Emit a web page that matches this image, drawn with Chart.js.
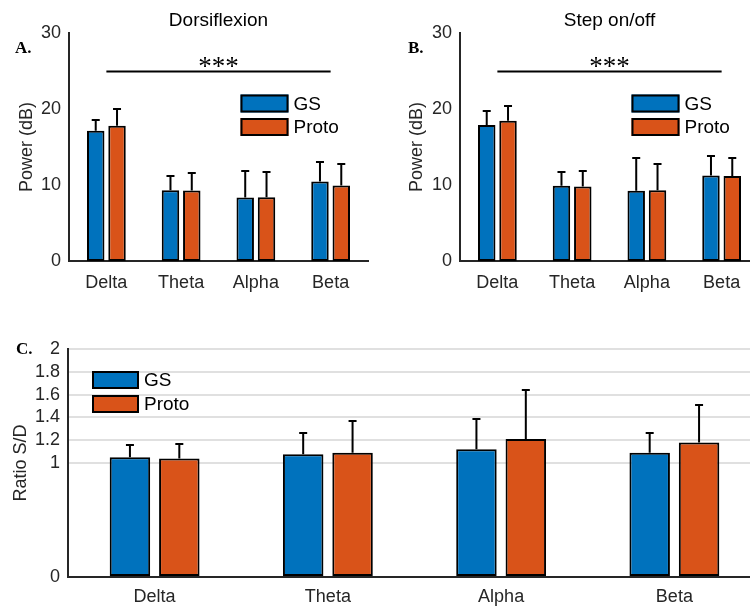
<!DOCTYPE html>
<html lang="en">
<head>
<meta charset="UTF-8">
<title>EEG band power: GS vs Proto</title>
<script src="https://cdn.jsdelivr.net/npm/chart.js@4"></script>
<style>
  html, body { margin: 0; padding: 0; background: #fff; overflow: hidden; }
  #fig { position: relative; width: 750px; height: 606px; overflow: hidden; }
  canvas { position: absolute; }
  #dorsi { left: 0; top: 0; }
  #step { left: 390px; top: 0; }
  #ratio { left: 0; top: 310px; }
</style>
</head>
<body>
<div id="fig">
  <canvas id="dorsi" width="375" height="300"></canvas>
  <canvas id="step" width="375" height="300"></canvas>
  <canvas id="ratio" width="765" height="296"></canvas>
</div>
<script>
const bands = ['Delta', 'Theta', 'Alpha', 'Beta'];
const groups = ['GS', 'Proto'];
const groupColors = ['#0072BD', '#D95319'];

// band power in dB, mean and SD (only +SD is drawn)
const dorsiGS = [17.15, 9.3, 8.35, 10.45];
const dorsiGSsd = [1.35, 1.9, 3.5, 2.55];
const dorsiProto = [17.8, 9.27, 8.4, 9.95];
const dorsiProtoSd = [2.25, 2.35, 3.3, 2.85];

const stepGS = [17.9, 9.9, 9.23, 11.25];
const stepGSsd = [1.9, 1.8, 4.37, 2.55];
const stepProto = [18.47, 9.8, 9.3, 11.2];
const stepProtoSd = [1.98, 2.07, 3.45, 2.4];

// step / dorsiflexion power ratio
const ratioGS = [1.05, 1.076, 1.12, 1.09];
const ratioGSsd = [0.11, 0.184, 0.266, 0.176];
const ratioProto = [1.04, 1.09, 1.21, 1.18];
const ratioProtoSd = [0.13, 0.28, 0.43, 0.33];

const powerTicks = [0, 10, 20, 30];
const ratioTicks = [0, 1, 1.2, 1.4, 1.6, 1.8, 2];

// band effect, spanning Delta..Beta
const sigLevel = 25;
const sigMark = '***';

const INK = '#262626';
const SANS = 'Liberation Sans, Arial, sans-serif';
const SERIF = 'Liberation Serif, Times New Roman, serif';

// error bars, legend, titles, panel letters, significance bar
const figDecor = {
  id: 'figDecor',
  afterDatasetsDraw(chart, args, opts) {
    const ctx = chart.ctx;
    const area = chart.chartArea;
    const xs = chart.scales.x;
    const ys = chart.scales.y;
    ctx.save();

    ctx.strokeStyle = '#000';
    ctx.lineWidth = 2;
    chart.data.datasets.forEach((ds, i) => {
      chart.getDatasetMeta(i).data.forEach((bar, j) => {
        const top = Math.round(ys.getPixelForValue(ds.data[j] + ds.sd[j]));
        ctx.beginPath();
        ctx.moveTo(bar.x, bar.y);
        ctx.lineTo(bar.x, top);
        ctx.moveTo(bar.x - opts.cap, top);
        ctx.lineTo(bar.x + opts.cap, top);
        ctx.stroke();
      });
    });

    if (opts.sig) {
      const sy = Math.round(ys.getPixelForValue(sigLevel)) + 0.5;
      const x0 = xs.getPixelForValue(0);
      const x1 = xs.getPixelForValue(bands.length - 1);
      ctx.beginPath();
      ctx.moveTo(x0, sy);
      ctx.lineTo(x1, sy);
      ctx.stroke();
      ctx.font = '27px ' + SERIF;
      ctx.fillStyle = '#000';
      ctx.textAlign = 'center';
      ctx.textBaseline = 'alphabetic';
      // sit the glyphs 4px above the bar
      const m = ctx.measureText(sigMark);
      ctx.fillText(sigMark, (x0 + x1) / 2, sy - 4 - m.actualBoundingBoxDescent);
    }

    // legend boxes inside the axes
    const lg = opts.legend;
    chart.data.datasets.forEach((ds, i) => {
      const bx = area.left + lg.dx;
      const by = area.top + lg.dy + i * lg.pitch;
      ctx.fillStyle = ds.backgroundColor;
      ctx.fillRect(bx, by, lg.w, lg.h);
      ctx.strokeStyle = '#000';
      ctx.lineWidth = 2;
      ctx.strokeRect(bx + 1, by + 1, lg.w - 2, lg.h - 2);
      ctx.fillStyle = '#000';
      ctx.font = '19px ' + SANS;
      ctx.textAlign = 'left';
      ctx.textBaseline = 'middle';
      ctx.fillText(ds.label, bx + lg.w + 5, by + lg.h / 2 + 1);
    });

    if (opts.title) {
      ctx.fillStyle = '#000';
      ctx.font = '19px ' + SANS;
      ctx.textAlign = 'center';
      ctx.textBaseline = 'middle';
      ctx.fillText(opts.title, (area.left + area.right) / 2, area.top - 12.5);
    }

    ctx.fillStyle = '#000';
    ctx.font = 'bold 17px ' + SERIF;
    ctx.textAlign = 'left';
    ctx.textBaseline = 'alphabetic';
    ctx.fillText(opts.letter.text, opts.letter.x, opts.letter.y);

    ctx.restore();
  }
};

function makeChart(id, series, sds, cfg) {
  const datasets = groups.map((g, i) => ({
    label: g,
    data: series[i],
    sd: sds[i],
    backgroundColor: groupColors[i],
    borderColor: '#000',
    borderWidth: 2,
    borderSkipped: false,
    categoryPercentage: 0.57,
    barPercentage: 0.82
  }));

  return new Chart(document.getElementById(id), {
    type: 'bar',
    data: { labels: bands, datasets: datasets },
    plugins: [figDecor],
    options: {
      responsive: false,
      animation: false,
      devicePixelRatio: 1,
      layout: { padding: cfg.padding },
      plugins: {
        legend: { display: false },
        tooltip: { enabled: false },
        figDecor: cfg.decor
      },
      scales: {
        x: {
          offset: true,
          grid: { display: false, drawTicks: false },
          border: { display: true, color: INK, width: 2 },
          ticks: { color: INK, font: { family: SANS, size: cfg.tickSize }, padding: cfg.xPad, maxRotation: 0 },
          afterFit(s) { s.height = cfg.xHeight; }
        },
        y: {
          min: cfg.yTicks[0],
          max: cfg.yTicks[cfg.yTicks.length - 1],
          afterBuildTicks(s) { s.ticks = cfg.yTicks.map(v => ({ value: v })); },
          grid: {
            display: cfg.grid,
            drawTicks: false,
            color: c => (c.tick && c.tick.value > 0) ? '#e0e0e0' : 'rgba(0,0,0,0)',
            lineWidth: 2
          },
          border: { display: true, color: INK, width: 2 },
          ticks: {
            color: INK,
            font: { family: SANS, size: cfg.tickSize },
            padding: 8,
            callback: v => String(v)
          },
          title: {
            display: true,
            text: cfg.yTitle,
            color: INK,
            font: { family: SANS, size: cfg.tickSize },
            padding: { top: cfg.titlePad, bottom: 0 }
          },
          afterFit(s) { s.width = cfg.yWidth; }
        }
      }
    }
  });
}

const topLegend = { dx: 171.5, dy: 61.5, w: 48, h: 18, pitch: 23.5 };

makeChart('dorsi', [dorsiGS, dorsiProto], [dorsiGSsd, dorsiProtoSd], {
  padding: { top: 33, right: 7, left: 0, bottom: 0 },
  yWidth: 69, xHeight: 39, xPad: 11, tickSize: 18, titlePad: 16,
  yTicks: powerTicks, yTitle: 'Power (dB)', grid: false,
  decor: {
    cap: 4, sig: true, title: 'Dorsiflexion', legend: topLegend,
    letter: { text: 'A.', x: 15, y: 53 }
  }
});

makeChart('step', [stepGS, stepProto], [stepGSsd, stepProtoSd], {
  padding: { top: 33, right: 6, left: 0, bottom: 0 },
  yWidth: 70, xHeight: 39, xPad: 11, tickSize: 18, titlePad: 16,
  yTicks: powerTicks, yTitle: 'Power (dB)', grid: false,
  decor: {
    cap: 4, sig: true, title: 'Step on/off', legend: topLegend,
    letter: { text: 'B.', x: 18, y: 53 }
  }
});

makeChart('ratio', [ratioGS, ratioProto], [ratioGSsd, ratioProtoSd], {
  padding: { top: 39, right: 4, left: 0, bottom: 0 },
  yWidth: 68, xHeight: 29, xPad: 9, tickSize: 18, titlePad: 10,
  yTicks: ratioTicks, yTitle: 'Ratio S/D', grid: true,
  decor: {
    cap: 4, sig: false, title: null,
    legend: { dx: 24, dy: 22, w: 47, h: 18, pitch: 24 },
    letter: { text: 'C.', x: 16, y: 44 }
  }
});
</script>
</body>
</html>
